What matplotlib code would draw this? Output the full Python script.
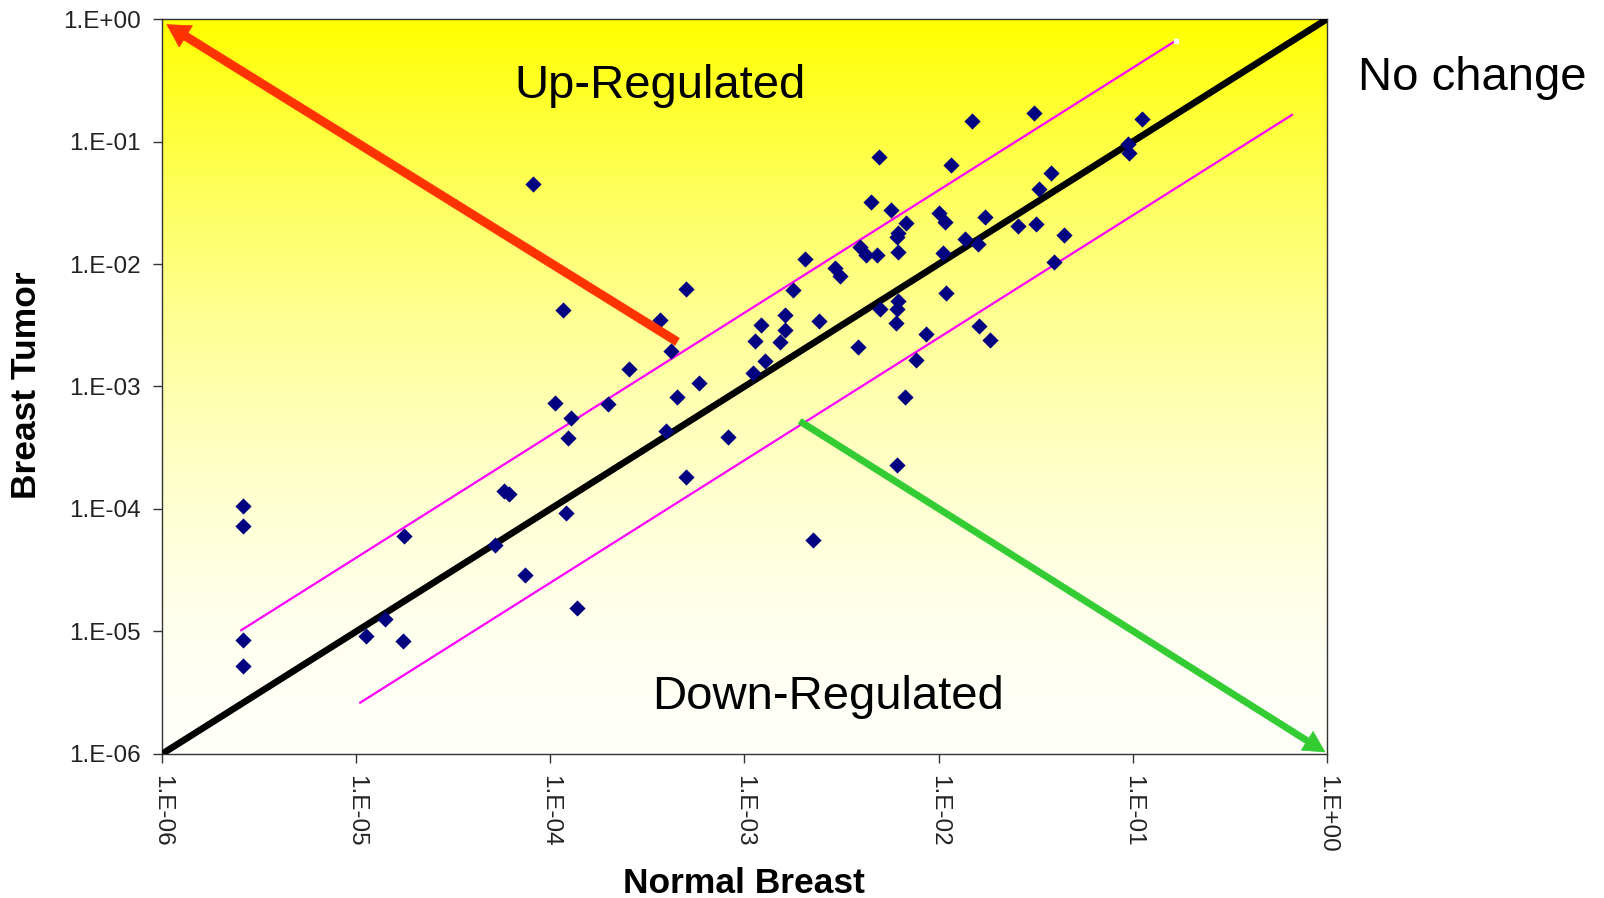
import numpy as np
import matplotlib
matplotlib.use("Agg")
import matplotlib.pyplot as plt

plt.rcParams['font.family'] = ['Liberation Sans', 'DejaVu Sans']

# expression values (normal breast, breast tumor)
normal = [2.6e-6, 2.6e-6, 2.6e-6, 2.6e-6, 1.13e-5, 1.40e-5, 1.75e-5, 1.76e-5, 5.2e-5, 5.8e-5,
          6.1e-5, 7.4e-5, 8.1e-5, 1.06e-4, 1.16e-4, 1.21e-4, 1.24e-4, 1.28e-4, 1.38e-4, 1.97e-4,
          2.54e-4, 3.66e-4, 3.94e-4, 4.2e-4, 4.5e-4, 5.0e-4, 5.0e-4, 5.8e-4, 8.2e-4, 1.11e-3,
          1.13e-3, 1.22e-3, 1.27e-3, 1.52e-3, 1.61e-3, 1.61e-3, 1.77e-3, 2.05e-3, 2.26e-3, 2.43e-3,
          2.92e-3, 3.10e-3, 3.85e-3, 3.93e-3, 4.2e-3, 4.5e-3, 4.8e-3, 4.9e-3, 5.0e-3, 5.7e-3,
          6.0e-3, 6.1e-3, 6.1e-3, 6.2e-3, 6.2e-3, 6.2e-3, 6.1e-3, 6.8e-3, 6.7e-3, 7.6e-3,
          8.6e-3, 1.01e-2, 1.08e-2, 1.05e-2, 1.09e-2, 1.16e-2, 1.36e-2, 1.48e-2, 1.60e-2, 1.62e-2,
          1.73e-2, 1.84e-2, 2.56e-2, 3.10e-2, 3.16e-2, 3.28e-2, 3.78e-2, 3.94e-2, 4.4e-2, 9.6e-2,
          9.5e-2, 0.112]
tumor = [1.06e-4, 7.3e-5, 8.5e-6, 5.2e-6, 9.1e-6, 1.26e-5, 8.4e-6, 6.0e-5, 5.1e-5, 1.41e-4,
         1.32e-4, 2.9e-5, 4.5e-2, 7.3e-4, 4.2e-3, 9.2e-5, 3.8e-4, 5.5e-4, 1.55e-5, 7.2e-4,
         1.40e-3, 3.5e-3, 4.3e-4, 1.96e-3, 8.2e-4, 1.84e-4, 6.2e-3, 1.07e-3, 3.9e-4, 1.28e-3,
         2.37e-3, 3.2e-3, 1.63e-3, 2.32e-3, 3.8e-3, 2.9e-3, 6.1e-3, 1.09e-2, 5.6e-5, 3.4e-3,
         9.2e-3, 8.0e-3, 2.11e-3, 1.38e-2, 1.18e-2, 3.2e-2, 1.18e-2, 7.5e-2, 4.3e-3, 2.76e-2,
         3.3e-3, 4.3e-3, 2.29e-4, 5.0e-3, 1.26e-2, 1.78e-2, 1.65e-2, 2.17e-2, 8.2e-4, 1.64e-3,
         2.69e-3, 2.62e-2, 2.21e-2, 1.22e-2, 5.8e-3, 6.4e-2, 1.59e-2, 0.148, 1.46e-2, 3.1e-3,
         2.43e-2, 2.40e-3, 2.04e-2, 0.170, 2.12e-2, 4.1e-2, 5.5e-2, 1.03e-2, 1.73e-2, 8.0e-2,
         9.5e-2, 0.153]

# reference lines
diag_x = [1e-6, 1.0]
fold = 4.0
upper_x = [2.56e-6, 0.167]
lower_x = [1.05e-5, 0.66]

ticks = [1e-6, 1e-5, 1e-4, 1e-3, 1e-2, 1e-1, 1e0]
tick_labels = ['1.E-06', '1.E-05', '1.E-04', '1.E-03', '1.E-02', '1.E-01', '1.E+00']

# arrows (tail, tip) in data coords
up_arrow = [(4.5e-4, 2.32e-3), (1.06e-6, 0.90)]
down_arrow = [(1.93e-3, 5.2e-4), (0.975, 1.04e-6)]

fig = plt.figure(figsize=(16.04, 8.98), dpi=100)
pos = [0.101, 0.1604, 0.7263, 0.8184]

# yellow -> ivory gradient background (fades quickly below the top)
bg = fig.add_axes(pos, zorder=0)
n = 256
t = np.linspace(0, 1, n)
blue = (250 * (1 - (1 - t) ** 1.7))[:, None] / 255.0
grad = np.zeros((n, 1, 3))
grad[:, :, 0] = 1.0
grad[:, :, 1] = 1.0
grad[:, :, 2] = blue
bg.imshow(grad, aspect='auto', extent=[0, 1, 0, 1])
bg.axis('off')

ax = fig.add_axes(pos, zorder=1)
ax.patch.set_alpha(0)
ax.set_xscale('log')
ax.set_yscale('log')

ax.plot(diag_x, diag_x, color='black', lw=4.8, solid_capstyle='butt', zorder=3)
ax.plot(upper_x, [v * fold for v in upper_x], color='#ff00ff', lw=1.6, zorder=3)
ax.plot(lower_x, [v / fold for v in lower_x], color='#ff00ff', lw=1.6, zorder=3)
ax.plot([upper_x[-1]], [upper_x[-1] * fold], marker='s', ms=3.5, color='white', zorder=3)

ax.scatter(normal, tumor, marker='D', s=68, color='#000080', linewidths=0, zorder=4)

ax.annotate('', xy=up_arrow[1], xytext=up_arrow[0],
            arrowprops=dict(width=6, headwidth=18, headlength=16, shrink=0,
                            facecolor='#ff3300', edgecolor='#ff3300', lw=0.5),
            zorder=5)
ax.annotate('', xy=down_arrow[1], xytext=down_arrow[0],
            arrowprops=dict(width=4.5, headwidth=16, headlength=15, shrink=0,
                            facecolor='#33cc33', edgecolor='#33cc33', lw=0.5),
            zorder=5)

ax.set_xlim(1e-6, 1)
ax.set_ylim(1e-6, 1)
ax.set_xticks(ticks)
ax.set_xticklabels(tick_labels, rotation=-90, va='top', ha='center')
ax.set_yticks(ticks)
ax.set_yticklabels(tick_labels)
ax.minorticks_off()
ax.tick_params(axis='both', direction='out', length=6.5, width=1, color='#333333',
               labelsize=17.5, labelcolor='#222222', pad=9)
for s in ax.spines.values():
    s.set_linewidth(1.0)
    s.set_color('#333333')

fig.text(0.4115, 1 - 98 / 898, 'Up-Regulated', fontsize=34, ha='center', va='baseline')
fig.text(828 / 1604, 1 - 709 / 898, 'Down-Regulated', fontsize=34, ha='center', va='baseline')
fig.text(1358 / 1604, 1 - 90 / 898, 'No change', fontsize=34, ha='left', va='baseline')
fig.text(744 / 1604, 1 - 893 / 898, 'Normal Breast', fontsize=25.5, fontweight='bold',
         ha='center', va='baseline')
fig.text(43 / 1604, 1 - 385 / 898, 'Breast Tumor', fontsize=25.5, fontweight='bold',
         rotation=90, ha='right', va='center')

fig.savefig('out.png', dpi=100)
